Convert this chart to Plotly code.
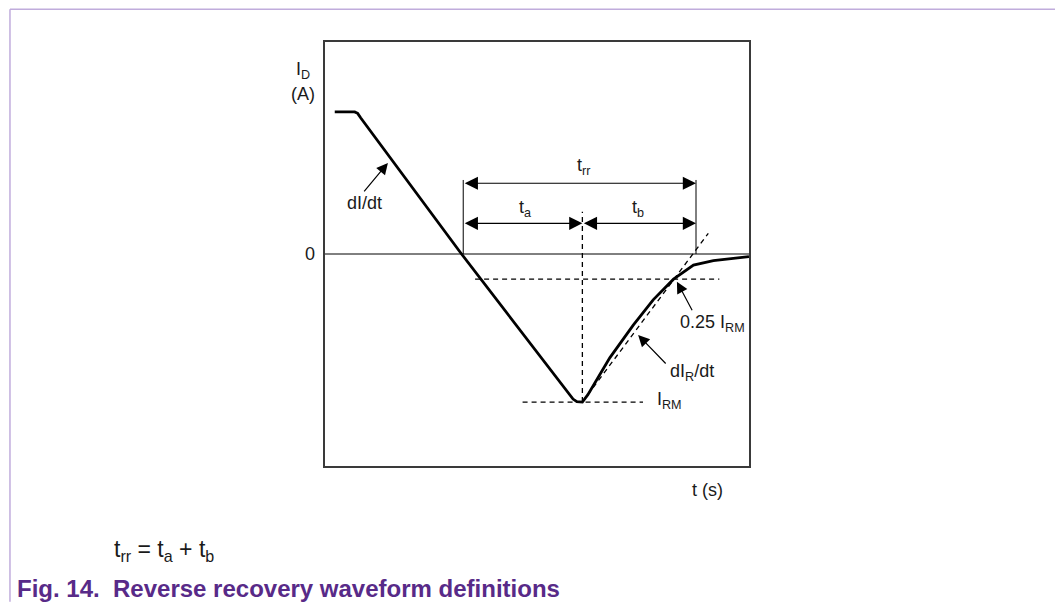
import plotly.graph_objects as go

# diode current waveform, I normalised so that I_RM = -1, t in arbitrary units
t_wave = [0.23, 0.63, 0.70, 0.77, 0.84, 3.22, 5.62, 5.75, 5.85, 5.94, 6.07,
          6.20, 6.40, 6.72, 7.27, 7.74, 8.22, 8.69, 9.16, 10.0]
i_wave = [0.96, 0.96, 0.96, 0.95, 0.92, 0.0, -0.90, -0.95, -0.98, -0.997, -1.0,
          -0.95, -0.85, -0.70, -0.48, -0.31, -0.17, -0.075, -0.045, -0.018]

# characteristic points
t_start = 3.26      # start of t_a (zero crossing)
t_peak = 6.07       # time of I_RM
t_end = 8.75        # end of t_rr
i_rm = -1.0
i_quarter = -0.17   # 0.25 I_RM level
quarter_span = [3.54, 9.30]
irm_span = [4.66, 7.50]
tangent_t = [6.07, 9.04]
tangent_i = [-1.0, 0.14]
tick_top = 0.50
trr_level = 0.478
tab_level = 0.207
peak_line_top = 0.286

T_RANGE = [0, 10]
I_RANGE = [-1.432, 1.432]

FONT = "Liberation Sans, Arial, sans-serif"
INK = "#1a1a1a"
PURPLE = "#582a88"

fig = go.Figure()

# zero line
fig.add_trace(go.Scatter(x=T_RANGE, y=[0, 0], mode="lines",
                         line=dict(color="black", width=1)))

# dashed construction lines
dash = dict(color="black", width=1.3, dash="5px,4px")
fig.add_trace(go.Scatter(x=quarter_span, y=[i_quarter, i_quarter], mode="lines", line=dash))
fig.add_trace(go.Scatter(x=irm_span, y=[i_rm, i_rm], mode="lines", line=dash))
fig.add_trace(go.Scatter(x=[t_peak, t_peak], y=[i_rm, peak_line_top], mode="lines", line=dash))
fig.add_trace(go.Scatter(x=tangent_t, y=tangent_i, mode="lines", line=dash))

# solid extension lines for t_rr
for tt in [t_start, t_end]:
    fig.add_trace(go.Scatter(x=[tt, tt], y=[0, tick_top], mode="lines",
                             line=dict(color="black", width=1)))

# the waveform
fig.add_trace(go.Scatter(x=t_wave, y=i_wave, mode="lines",
                         line=dict(color="black", width=2.8)))

# dimension arrows
dims = [(t_start, t_end, trr_level), (t_start, t_peak, tab_level), (t_peak, t_end, tab_level)]
for a, b, lvl in dims:
    fig.add_annotation(x=b, y=lvl, ax=a, ay=lvl, axref="x", ayref="y", text="",
                       showarrow=True, arrowside="end+start", arrowhead=2,
                       arrowsize=2.2, arrowwidth=1.2, arrowcolor="black")

# pointer arrows (head position in data, tail offset in px)
pointers = [(1.484, 0.615, -25, 30), (8.30, -0.187, 16, 30), (7.385, -0.547, 29, 30)]
for x, y, dx, dy in pointers:
    fig.add_annotation(x=x, y=y, ax=dx, ay=dy, text="", showarrow=True,
                       arrowhead=2, arrowsize=1.9, arrowwidth=1.2, arrowcolor="black")

# labels inside the axes (data coordinates)
labels = [
    ("dI/dt", 0.935, 0.345),
    ("0.25 I<sub>RM</sub>", 9.145, -0.47),
    ("dI<sub>R</sub>/dt", 8.66, -0.80),
    ("I<sub>RM</sub>", 8.12, -0.99),
    ("t<sub>a</sub>", 4.72, 0.31),
    ("t<sub>b</sub>", 7.385, 0.31),
    ("t<sub>rr</sub>", 6.09, 0.59),
]
for txt, x, y in labels:
    fig.add_annotation(x=x, y=y, text=txt, showarrow=False,
                       font=dict(family=FONT, size=18, color=INK))

# labels outside the axes (paper coordinates)
outer = [
    ("I<sub>D</sub>", -0.052, 0.932),
    ("(A)", -0.052, 0.878),
    ("0", -0.035, 0.5),
    ("t (s)", 0.903, -0.057),
]
for txt, x, y in outer:
    fig.add_annotation(x=x, y=y, xref="paper", yref="paper", text=txt, showarrow=False,
                       xanchor="center", yanchor="middle",
                       font=dict(family=FONT, size=18, color=INK))

fig.add_annotation(x=-0.502, y=-0.200, xref="paper", yref="paper",
                   text="t<sub>rr</sub> = t<sub>a</sub> + t<sub>b</sub>",
                   showarrow=False, xanchor="left", yanchor="middle",
                   font=dict(family=FONT, size=23, color=INK))
fig.add_annotation(x=-0.731, y=-0.288, xref="paper", yref="paper",
                   text="<b>Fig. 14.&nbsp; Reverse recovery waveform definitions</b>",
                   showarrow=False, xanchor="left", yanchor="middle",
                   font=dict(family=FONT, size=24, color=PURPLE))

# page frame lines (top and left)
frame = dict(color="#c0acdc", width=1.5)
fig.add_shape(type="line", xref="paper", yref="paper", x0=-0.743, x1=1.75,
              y0=1.077, y1=1.077, line=frame)
fig.add_shape(type="line", xref="paper", yref="paper", x0=-0.743, x1=-0.743,
              y0=1.077, y1=-0.32, line=frame)

fig.update_xaxes(range=T_RANGE, showgrid=False, zeroline=False, showticklabels=False,
                 ticks="", showline=True, mirror=True, linecolor="#3a3a3a", linewidth=1.5)
fig.update_yaxes(range=I_RANGE, showgrid=False, zeroline=False, showticklabels=False,
                 ticks="", showline=True, mirror=True, linecolor="#3a3a3a", linewidth=1.5)

# the page adds an 8 px body margin, so the figure is 8 px smaller each way
fig.update_layout(width=1055, height=597, showlegend=False,
                  margin=dict(l=317, r=314, t=34, b=139),
                  paper_bgcolor="white", plot_bgcolor="white")

fig.write_html("out.html")
